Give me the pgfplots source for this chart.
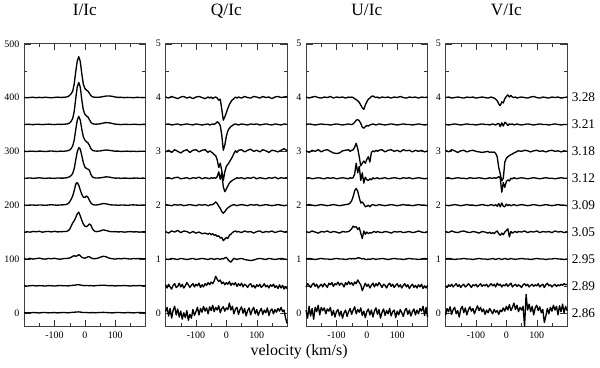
\documentclass[border=0pt]{standalone}
\usepackage{fontspec}
\setmainfont{Liberation Serif}
\usepackage{pgfplots}
\pgfplotsset{compat=1.18}

\pgfplotsset{
  panel/.style={
    scale only axis, width=91.5pt, height=213pt,
    xmin=-200, xmax=200,
    xtick={-100,0,100}, minor xtick={-150,-50,50,150},
    major tick length=5pt, minor tick length=2.5pt,
    axis line style={black!75}, tick style={black!80},
    tick label style={font=\fontsize{7.5}{8}\selectfont},
    /pgf/number format/assume math mode=true,
    title style={at={(0.5,1)}, anchor=base, yshift=15pt, font=\fontsize{13}{13}\selectfont},
    clip=false,
  },
  stokes/.style={panel, ymin=-0.26, ymax=5, ytick={0,1,2,3,4,5},
    minor ytick={0.5,1.5,2.5,3.5,4.5}},
  tr/.style={black, line width=1pt, mark=none, line join=round},
  off/.style={y filter/.code={\pgfmathparse{\pgfmathresult+#1}}},
}

\begin{document}
\begin{tikzpicture}
\path (-16.5pt,-30.75pt) rectangle (433.5pt,245.25pt);

% ---------- I/Ic ----------
\begin{axis}[panel, at={(0pt,0pt)}, anchor=south west, title={I/Ic},
  ymin=-26, ymax=500, ytick={0,100,200,300,400,500},
  minor ytick={50,150,250,350,450}]
\addplot[tr, off=400] coordinates {(-200,0.3) (-190,-0.4) (-180,0.2) (-170,0.5) (-160,-0.3) (-150,0.4) (-140,-0.2) (-130,0.6) (-120,0.1) (-110,-0.5) (-100,0.3) (-90,0.8) (-80,0.2) (-70,0.4) (-60,1) (-55,2) (-50,4) (-45,7) (-40,12) (-35,25) (-30,48) (-25,68) (-20,76) (-15,67) (-10,44) (-5,25) (0,17) (5,14) (10,12) (15,8) (20,3.5) (25,1.5) (30,0.8) (35,0.5) (40,0.4) (50,0.8) (60,1.8) (70,2.8) (80,3) (90,2.3) (100,1) (110,0.3) (120,0.5) (130,-0.2) (140,0.3) (150,0.1) (160,-0.3) (170,0.4) (180,0.2) (190,-0.1) (200,0.2)};
\addplot[tr, off=350] coordinates {(-200,-0.2) (-190,0.3) (-180,0.1) (-170,-0.4) (-160,0.5) (-150,0.2) (-140,-0.3) (-130,0.2) (-120,0.6) (-110,0.1) (-100,-0.3) (-90,0.4) (-80,0.1) (-70,0.3) (-60,0.8) (-55,1.5) (-50,3) (-45,6) (-40,11) (-35,24) (-30,48) (-25,70) (-20,78) (-15,69) (-10,46) (-5,27) (0,19) (5,16) (10,14) (15,9) (20,4) (25,1.5) (30,0.8) (35,0.5) (40,0.6) (50,1.2) (60,2.5) (70,3.5) (80,3) (90,1.8) (100,0.6) (110,0.2) (120,-0.3) (130,0.3) (140,0.1) (150,-0.2) (160,0.4) (170,0.1) (180,-0.3) (190,0.2) (200,0.1)};
\addplot[tr, off=300] coordinates {(-200,0.2) (-190,-0.3) (-180,0.4) (-170,0.1) (-160,-0.2) (-150,0.5) (-140,0.2) (-130,-0.4) (-120,0.3) (-110,0.7) (-100,0.1) (-90,-0.2) (-80,0.4) (-70,0.2) (-60,0.8) (-55,1.5) (-50,2.5) (-45,5) (-40,10) (-35,21) (-30,40) (-25,58) (-20,65) (-15,58) (-10,41) (-5,27) (0,21) (5,18) (10,16) (15,11) (20,5) (25,2) (30,1) (35,0.6) (40,0.4) (50,0.8) (60,1.8) (70,2.5) (80,2) (90,1) (100,0.3) (110,0.5) (120,-0.2) (130,0.2) (140,0.4) (150,-0.1) (160,0.2) (170,-0.3) (180,0.1) (190,0.3) (200,-0.1)};
\addplot[tr, off=250] coordinates {(-200,-0.3) (-190,0.2) (-180,0.5) (-170,-0.1) (-160,0.3) (-150,0.9) (-140,0.2) (-130,-0.3) (-120,0.4) (-110,0.1) (-100,-0.2) (-90,0.6) (-80,0.2) (-70,0.3) (-60,0.9) (-55,1.8) (-50,3) (-45,5) (-40,9) (-35,18) (-30,34) (-25,49) (-20,57) (-15,54) (-10,42) (-5,29) (0,21) (5,18) (10,17) (15,15) (20,7) (25,2.5) (30,1.2) (35,0.6) (40,0.4) (50,0.8) (60,1.6) (70,2.6) (80,2.2) (90,1) (100,0.2) (110,0.4) (120,-0.2) (130,0.3) (140,0.1) (150,-0.3) (160,0.2) (170,0.4) (180,-0.1) (190,0.2) (200,0.1)};
\addplot[tr, off=200] coordinates {(-200,0.1) (-190,-0.3) (-180,0.3) (-170,0.2) (-160,-0.2) (-150,0.4) (-140,0.1) (-130,-0.3) (-120,0.3) (-110,0.8) (-100,0.2) (-90,-0.1) (-80,0.4) (-70,0.6) (-60,1.5) (-55,3) (-50,6) (-45,11) (-40,17) (-35,27) (-30,39) (-25,42) (-20,37) (-15,28) (-10,20) (-5,15) (0,14) (5,17) (10,15) (15,9) (20,4) (25,1.5) (30,0.6) (35,0.2) (40,0.5) (50,1.5) (60,3) (70,2.5) (80,1) (90,0.4) (100,0.2) (110,-0.2) (120,0.3) (130,0.1) (140,-0.3) (150,0.2) (160,0.6) (170,0.1) (180,-0.2) (190,0.3) (200,0.1)};
\addplot[tr, off=150] coordinates {(-200,-0.5) (-190,0.6) (-180,-0.2) (-170,1.2) (-160,0.4) (-150,1.5) (-140,-0.3) (-130,0.8) (-120,1.2) (-110,0.2) (-100,1.4) (-90,0.3) (-80,0.6) (-70,0.9) (-60,1.2) (-55,2.5) (-50,5) (-45,11) (-40,17) (-35,21) (-30,27) (-25,34) (-20,37) (-15,30) (-10,22) (-5,15) (0,11) (5,10) (10,12) (15,15) (20,13) (25,6) (30,2.5) (35,1) (40,0.8) (50,2) (60,4) (70,3) (80,1.2) (90,0.5) (100,0.8) (110,0.2) (120,0.6) (130,-0.2) (140,0.4) (150,0.9) (160,0.2) (170,0.5) (180,-0.2) (190,0.4) (200,0.3)};
\addplot[tr, off=100] coordinates {(-200,0.5) (-190,-0.6) (-180,1.2) (-170,-0.3) (-160,0.8) (-150,1.5) (-140,0.2) (-130,-0.4) (-120,1) (-110,0.3) (-100,1.3) (-90,0.1) (-80,-0.5) (-70,0.7) (-60,0.9) (-55,1.2) (-50,2) (-45,3) (-40,5) (-35,6) (-30,5) (-25,6) (-20,8) (-15,6) (-10,3) (-5,2) (0,1.5) (5,2.5) (10,4) (15,4) (20,2) (25,1) (30,0.5) (35,0.6) (40,1) (50,3) (60,5) (70,4) (80,1.5) (90,0.5) (100,-0.3) (110,0.8) (120,0.2) (130,1.2) (140,0.4) (150,-0.2) (160,0.8) (170,0.3) (180,1) (190,0.2) (200,0.5)};
\addplot[tr, off=50] coordinates {(-200,0.2) (-190,-0.4) (-180,0.3) (-170,0.6) (-160,-0.2) (-150,0.4) (-140,0.1) (-130,-0.3) (-120,0.5) (-110,0.2) (-100,-0.4) (-90,0.3) (-80,0.6) (-70,0.1) (-60,0.2) (-55,-0.3) (-50,0.4) (-45,0.6) (-40,0.9) (-35,1.2) (-30,1.5) (-25,2) (-20,2.2) (-15,1.6) (-10,1) (-5,0.6) (0,0.3) (5,0.7) (10,0.5) (15,0.2) (20,0.6) (25,0.3) (30,-0.2) (35,0.4) (40,0.6) (50,0.9) (60,1.2) (70,0.8) (80,0.3) (90,0.5) (100,-0.2) (110,0.4) (120,0.1) (130,0.6) (140,0.2) (150,-0.3) (160,0.4) (170,0.2) (180,0.6) (190,0.1) (200,0.3)};
\addplot[tr, off=0] coordinates {(-200,-0.3) (-190,0.2) (-180,-0.1) (-170,0.4) (-160,0.1) (-150,-0.4) (-140,0.3) (-130,0.5) (-120,-0.2) (-110,0.1) (-100,0.4) (-90,-0.3) (-80,0.2) (-70,0.5) (-60,0.1) (-55,-0.2) (-50,0.3) (-45,0.5) (-40,0.8) (-35,1) (-30,1.2) (-25,1.5) (-20,1.6) (-15,1.2) (-10,0.8) (-5,0.5) (0,0.3) (5,0.6) (10,0.2) (15,-0.1) (20,0.3) (25,0.1) (30,0.4) (35,-0.2) (40,0.2) (50,0.5) (60,0.7) (70,0.4) (80,0.1) (90,-0.3) (100,0.3) (110,0.6) (120,0.1) (130,-0.2) (140,0.4) (150,0.2) (160,-0.3) (170,0.3) (180,0.5) (190,0.1) (200,-0.2)};
\end{axis}

% ---------- Q/Ic ----------
\begin{axis}[stokes, at={(106.5pt,0pt)}, anchor=south west, title={Q/Ic}]
\addplot[tr, off=4] coordinates {(-200,0.01) (-190,-0.01) (-180,0.02) (-170,0) (-160,-0.02) (-150,0.01) (-140,0.02) (-130,-0.01) (-120,0.01) (-110,-0.02) (-100,0.01) (-90,0.02) (-80,0) (-70,-0.02) (-60,0.01) (-55,-0.01) (-50,0.01) (-45,-0.02) (-40,0) (-35,0.01) (-30,-0.01) (-25,-0.05) (-20,-0.03) (-15,-0.22) (-10,-0.42) (-5,-0.36) (0,-0.28) (5,-0.2) (10,-0.13) (15,-0.08) (20,-0.04) (25,-0.02) (30,0.01) (35,-0.01) (40,0.01) (50,-0.01) (60,0.02) (70,0) (80,-0.01) (90,0.02) (100,0.01) (110,-0.01) (120,0.02) (130,0) (140,0.01) (150,-0.02) (160,0.01) (170,0.02) (180,0) (190,0.01) (200,0.02)};
\addplot[tr, off=3.5] coordinates {(-200,0) (-190,0.01) (-180,-0.01) (-170,0) (-160,0.01) (-150,-0.01) (-140,0) (-130,0.01) (-120,0) (-110,-0.01) (-100,0.01) (-90,0) (-80,-0.01) (-70,0) (-60,0.01) (-55,-0.01) (-50,0) (-45,0.01) (-40,0) (-35,0.02) (-30,0.05) (-25,0.03) (-20,-0.02) (-15,-0.2) (-10,-0.48) (-5,-0.38) (0,-0.22) (5,-0.12) (10,-0.07) (15,-0.04) (20,-0.02) (25,0) (30,0.01) (35,0) (40,-0.01) (50,0.01) (60,0) (70,-0.01) (80,0.01) (90,0) (100,0.01) (110,-0.01) (120,0) (130,0.01) (140,0) (150,-0.01) (160,0.01) (170,0) (180,-0.01) (190,0.01) (200,0)};
\addplot[tr, off=3] coordinates {(-200,-0.01) (-190,0.02) (-180,-0.02) (-170,0.03) (-160,0) (-150,-0.03) (-140,0.01) (-130,0.03) (-120,-0.02) (-110,0.02) (-100,0.03) (-90,-0.01) (-80,0.02) (-70,0.03) (-60,-0.02) (-55,0.01) (-50,-0.01) (-45,-0.03) (-40,-0.06) (-35,-0.08) (-30,-0.16) (-25,-0.3) (-20,-0.22) (-15,-0.36) (-10,-0.54) (-5,-0.38) (0,-0.28) (5,-0.24) (10,-0.2) (15,-0.15) (20,-0.1) (25,-0.04) (30,0.01) (35,-0.02) (40,0.02) (50,0.03) (60,-0.01) (70,0.02) (80,0.04) (90,0) (100,0.02) (110,-0.01) (120,0.03) (130,0.01) (140,-0.02) (150,0.02) (160,0.01) (170,-0.01) (180,0.02) (190,0.05) (200,0.01)};
\addplot[tr, off=2.5] coordinates {(-200,0) (-190,0.01) (-180,-0.01) (-170,0.01) (-160,0.02) (-150,-0.01) (-140,0) (-130,0.01) (-120,-0.01) (-110,0.01) (-100,0) (-90,0.02) (-80,-0.01) (-70,0.01) (-60,0) (-55,-0.01) (-50,0.01) (-45,0) (-40,0.01) (-35,0) (-30,0.03) (-25,0.12) (-20,-0.02) (-15,0.1) (-10,-0.16) (-5,-0.25) (0,-0.2) (5,-0.14) (10,-0.09) (15,-0.06) (20,-0.04) (25,-0.02) (30,-0.01) (35,0.01) (40,0) (50,0.01) (60,-0.01) (70,0.01) (80,0) (90,0.02) (100,-0.01) (110,0.01) (120,0) (130,-0.01) (140,0.01) (150,0) (160,0.02) (170,-0.01) (180,0.01) (190,0) (200,0.01)};
\addplot[tr, off=2] coordinates {(-200,0.01) (-190,0) (-180,-0.01) (-170,0.01) (-160,0) (-150,0.01) (-140,-0.01) (-130,0) (-120,0.01) (-110,0) (-100,-0.01) (-90,0.01) (-80,0) (-70,0.01) (-60,-0.01) (-55,0) (-50,0.01) (-45,0.01) (-40,0.03) (-35,0.06) (-30,0.03) (-25,-0.02) (-20,-0.06) (-15,-0.12) (-10,-0.15) (-5,-0.12) (0,-0.08) (5,-0.05) (10,-0.03) (15,-0.01) (20,0) (25,0.01) (30,0) (35,-0.01) (40,0) (50,0.01) (60,0) (70,-0.01) (80,0.01) (90,0) (100,0.01) (110,-0.01) (120,0) (130,0.01) (140,0) (150,-0.01) (160,0) (170,0.01) (180,0) (190,-0.01) (200,0)};
\addplot[tr, off=1.5] coordinates {(-200,0.01) (-190,-0.02) (-180,0.02) (-170,0) (-160,0.03) (-150,-0.01) (-140,0.02) (-130,0.01) (-120,-0.02) (-110,0.01) (-100,-0.02) (-90,0) (-80,-0.03) (-70,-0.02) (-60,-0.04) (-55,-0.02) (-50,-0.05) (-45,-0.03) (-40,-0.06) (-35,-0.05) (-30,-0.08) (-25,-0.07) (-20,-0.11) (-15,-0.1) (-10,-0.16) (-5,-0.13) (0,-0.1) (5,-0.12) (10,-0.06) (15,-0.04) (20,-0.01) (25,0.01) (30,0.02) (35,0) (40,0.01) (50,-0.01) (60,0.02) (70,0) (80,0.01) (90,-0.02) (100,0.01) (110,0.02) (120,-0.01) (130,0.01) (140,0) (150,0.02) (160,-0.01) (170,0.01) (180,0.02) (190,0) (200,0.01)};
\addplot[tr, off=1] coordinates {(-200,0) (-190,-0.01) (-180,0.01) (-170,0) (-160,-0.01) (-150,0.01) (-140,0) (-130,-0.01) (-120,0) (-110,0.01) (-100,-0.01) (-90,0) (-80,0.01) (-70,0) (-60,-0.01) (-55,0) (-50,0.01) (-45,0) (-40,-0.01) (-35,0) (-30,0.01) (-25,0) (-20,-0.01) (-15,0.01) (-10,0) (-5,0.02) (0,0.03) (5,-0.01) (10,-0.04) (15,-0.06) (20,-0.02) (25,0.01) (30,0) (35,-0.01) (40,0) (50,0.01) (60,-0.01) (70,-0.02) (80,-0.03) (90,-0.02) (100,0) (110,0.01) (120,0) (130,-0.01) (140,0.01) (150,0) (160,-0.01) (170,0) (180,0.01) (190,0) (200,-0.01)};
\addplot[tr, off=0.5] coordinates {(-200,0.02) (-195,-0.04) (-190,0.03) (-185,-0.02) (-180,-0.06) (-175,0.01) (-170,0.04) (-165,-0.03) (-160,-0.01) (-155,0.05) (-150,-0.02) (-145,0.03) (-140,-0.04) (-135,0) (-130,0.06) (-125,0.02) (-120,-0.03) (-115,0.01) (-110,0.04) (-105,-0.02) (-100,0.03) (-95,0) (-90,0.05) (-85,-0.03) (-80,0.02) (-75,-0.02) (-70,0.04) (-65,0.01) (-60,0.06) (-55,0.02) (-50,0.07) (-45,0.04) (-40,0.09) (-35,0.18) (-30,0.12) (-25,0.08) (-20,0.11) (-15,0.04) (-10,0.07) (-5,0.02) (0,0.06) (5,0.03) (10,0.08) (15,0.01) (20,0.05) (25,0.02) (30,0.06) (35,-0.01) (40,0.04) (45,0) (50,0.05) (55,-0.02) (60,0.03) (65,0.01) (70,-0.03) (75,0.02) (80,0.04) (85,-0.02) (90,0.01) (95,-0.04) (100,0.02) (105,-0.01) (110,0.03) (115,-0.03) (120,0) (125,0.04) (130,-0.02) (135,0.01) (140,-0.04) (145,0.02) (150,-0.01) (155,0.03) (160,-0.03) (165,0) (170,-0.05) (175,0.02) (180,-0.04) (185,0.01) (190,-0.06) (195,-0.02) (200,-0.05)};
\addplot[tr, off=0] coordinates {(-200,0.02) (-195,0.1) (-190,-0.06) (-185,0.08) (-180,-0.1) (-175,0.05) (-170,0.12) (-165,-0.04) (-160,0.07) (-155,-0.08) (-150,0.03) (-145,-0.12) (-140,0) (-135,-0.09) (-130,0.04) (-125,-0.14) (-120,-0.03) (-115,-0.1) (-110,0.06) (-105,-0.05) (-100,0.02) (-95,0.1) (-90,-0.04) (-85,0.08) (-80,0.01) (-75,0.12) (-70,0.03) (-65,0.09) (-60,-0.02) (-55,0.11) (-50,0.04) (-45,0.14) (-40,0.02) (-35,0.1) (-30,0.05) (-25,0.13) (-20,0) (-15,0.08) (-10,0.11) (-5,0.03) (0,0.09) (5,0.06) (10,0.18) (15,0.05) (20,0.12) (25,-0.02) (30,0.07) (35,0.1) (40,-0.03) (45,0.06) (50,0.11) (55,-0.01) (60,0.08) (65,-0.06) (70,0.04) (75,0.09) (80,-0.04) (85,0.05) (90,0.1) (95,-0.02) (100,0.06) (105,-0.05) (110,0.03) (115,0.08) (120,-0.03) (125,0.05) (130,0) (135,0.09) (140,-0.05) (145,0.04) (150,0.07) (155,-0.02) (160,0.06) (165,0.01) (170,0.08) (175,0.03) (180,0.1) (185,0.02) (190,0.05) (195,-0.1) (200,-0.2)};
\end{axis}

% ---------- U/Ic ----------
\begin{axis}[stokes, at={(212.25pt,0pt)}, anchor=south west, title={U/Ic}]
\addplot[tr, off=4] coordinates {(-200,0.01) (-190,-0.01) (-180,0.01) (-170,0.02) (-160,0) (-150,-0.01) (-140,0.01) (-130,0) (-120,0.02) (-110,-0.01) (-100,0.01) (-90,0) (-80,0.01) (-70,-0.01) (-60,0.01) (-55,0) (-50,0.01) (-45,0) (-40,-0.02) (-35,-0.04) (-30,-0.06) (-25,-0.09) (-20,-0.14) (-15,-0.19) (-10,-0.22) (-5,-0.14) (0,-0.08) (5,-0.03) (10,-0.01) (15,0.02) (20,0.03) (25,0.01) (30,0) (35,0.01) (40,-0.01) (50,0.01) (60,0) (70,0.01) (80,-0.01) (90,0.01) (100,0) (110,0.02) (120,0) (130,-0.01) (140,0.01) (150,0) (160,0.01) (170,-0.01) (180,0.01) (190,0) (200,0.01)};
\addplot[tr, off=3.5] coordinates {(-200,0) (-190,0.01) (-180,0) (-170,-0.01) (-160,0) (-150,0.01) (-140,0) (-130,0) (-120,-0.01) (-110,0) (-100,0.01) (-90,0) (-80,-0.01) (-70,0) (-60,0.01) (-55,0) (-50,0) (-45,0.01) (-40,0.04) (-35,0.08) (-30,0.09) (-25,0.07) (-20,0.02) (-15,-0.05) (-10,-0.07) (-5,-0.04) (0,-0.02) (5,-0.03) (10,-0.01) (15,0) (20,0.01) (25,0) (30,-0.01) (35,0) (40,0.01) (50,0) (60,-0.01) (70,0) (80,0.01) (90,0) (100,-0.01) (110,0) (120,0.01) (130,0) (140,0) (150,-0.01) (160,0) (170,0.01) (180,0) (190,-0.01) (200,0)};
\addplot[tr, off=3] coordinates {(-200,0.01) (-190,-0.02) (-180,0.02) (-170,0) (-160,0.03) (-150,-0.01) (-140,0.02) (-130,0.03) (-120,0) (-110,-0.03) (-100,-0.04) (-90,-0.03) (-80,0.01) (-70,0.02) (-60,0.03) (-55,0) (-50,0.02) (-45,0.03) (-40,0.08) (-35,0.15) (-30,0.05) (-25,-0.1) (-20,-0.27) (-15,-0.22) (-10,-0.18) (-5,-0.22) (0,-0.15) (5,-0.1) (10,-0.2) (15,-0.02) (20,0.01) (25,-0.01) (30,0.02) (35,0) (40,0.02) (50,0.03) (60,-0.01) (70,0.02) (80,0.03) (90,0) (100,0.02) (110,-0.01) (120,0.03) (130,0.01) (140,0.02) (150,-0.01) (160,0.02) (170,0) (180,0.02) (190,-0.01) (200,0.01)};
\addplot[tr, off=2.5] coordinates {(-200,0) (-190,0.01) (-180,-0.01) (-170,0) (-160,0.01) (-150,0) (-140,-0.01) (-130,0.01) (-120,0) (-110,0.01) (-100,-0.01) (-90,0) (-80,0.01) (-70,0) (-60,-0.01) (-55,0.01) (-50,0) (-45,0.01) (-40,0.08) (-35,0.28) (-30,0.1) (-25,0.22) (-20,-0.04) (-15,0.1) (-10,-0.09) (-5,0.02) (0,-0.03) (5,-0.04) (10,-0.01) (15,-0.03) (20,0.01) (25,-0.01) (30,0) (35,0.01) (40,-0.01) (50,0) (60,0.01) (70,-0.01) (80,0) (90,0.01) (100,0) (110,-0.01) (120,0.01) (130,0) (140,0.01) (150,-0.01) (160,0) (170,0.01) (180,0) (190,-0.01) (200,0)};
\addplot[tr, off=2] coordinates {(-200,0) (-190,0.01) (-180,0) (-170,-0.01) (-160,0) (-150,0.01) (-140,0) (-130,-0.01) (-120,0) (-110,0.01) (-100,0) (-90,-0.01) (-80,0) (-70,0.01) (-60,0.02) (-55,0.04) (-50,0.08) (-45,0.16) (-40,0.27) (-35,0.31) (-30,0.26) (-25,0.14) (-20,0.04) (-15,0.06) (-10,0.02) (-5,-0.03) (0,-0.02) (5,0) (10,-0.03) (15,0) (20,0.01) (25,0) (30,-0.01) (35,0) (40,0.01) (50,0) (60,-0.01) (70,0) (80,0.01) (90,0) (100,-0.01) (110,0) (120,0.01) (130,0) (140,0) (150,-0.01) (160,0) (170,0.01) (180,0) (190,0) (200,-0.01)};
\addplot[tr, off=1.5] coordinates {(-200,0.01) (-190,-0.01) (-180,0.02) (-170,0) (-160,-0.02) (-150,0.01) (-140,0) (-130,0.02) (-120,-0.01) (-110,0.01) (-100,0) (-90,-0.02) (-80,0.01) (-70,0) (-60,0.01) (-55,0.03) (-50,0.06) (-45,0.11) (-40,0.09) (-35,0.1) (-30,0.05) (-25,0.08) (-20,-0.02) (-15,-0.12) (-10,0.02) (-5,-0.04) (0,0) (5,-0.03) (10,-0.01) (15,-0.02) (20,0) (25,0.01) (30,-0.01) (35,0.01) (40,0) (50,-0.01) (60,0.01) (70,0) (80,-0.02) (90,0.01) (100,0) (110,0.01) (120,-0.01) (130,0) (140,0.01) (150,-0.01) (160,0) (170,0.02) (180,0) (190,-0.01) (200,0.01)};
\addplot[tr, off=1] coordinates {(-200,0) (-190,0.01) (-180,0) (-170,-0.01) (-160,0) (-150,0.01) (-140,0) (-130,0) (-120,-0.01) (-110,0) (-100,0.01) (-90,0) (-80,0) (-70,-0.01) (-60,0) (-55,0.01) (-50,0) (-45,0.01) (-40,0) (-35,0.01) (-30,0.02) (-25,0.02) (-20,0.01) (-15,0) (-10,0.01) (-5,-0.01) (0,-0.01) (5,0) (10,-0.01) (15,0) (20,0.01) (25,0) (30,-0.01) (35,0) (40,0) (50,0.01) (60,0) (70,-0.01) (80,0) (90,0.01) (100,0) (110,0) (120,-0.01) (130,0) (140,0.01) (150,0) (160,0) (170,-0.01) (180,0) (190,0.01) (200,0)};
\addplot[tr, off=0.5] coordinates {(-200,-0.02) (-195,0.04) (-190,0.01) (-185,-0.03) (-180,0.02) (-175,0.05) (-170,-0.01) (-165,0.03) (-160,-0.04) (-155,0) (-150,0.03) (-145,-0.02) (-140,0.04) (-135,0.01) (-130,-0.03) (-125,0.05) (-120,0.02) (-115,0.06) (-110,-0.01) (-105,0.04) (-100,0.02) (-95,0.07) (-90,0.01) (-85,0.05) (-80,0.03) (-75,-0.02) (-70,0.06) (-65,0.02) (-60,0.08) (-55,0.03) (-50,0.06) (-45,0.01) (-40,0.07) (-35,0.04) (-30,0.11) (-25,0.06) (-20,0.02) (-15,-0.09) (-10,-0.02) (-5,0.05) (0,-0.01) (5,0.03) (10,-0.04) (15,0.01) (20,0.05) (25,-0.02) (30,0.04) (35,0) (40,0.06) (45,0.02) (50,-0.03) (55,0.03) (60,0.01) (65,-0.04) (70,0.02) (75,0.05) (80,-0.01) (85,0.03) (90,-0.03) (95,0.01) (100,0.04) (105,-0.02) (110,0.02) (115,-0.04) (120,0.01) (125,0.04) (130,-0.02) (135,0.02) (140,-0.05) (145,0) (150,0.03) (155,-0.03) (160,0.01) (165,-0.04) (170,0.02) (175,-0.02) (180,0.03) (185,-0.05) (190,0) (195,-0.04) (200,0.01)};
\addplot[tr, off=0] coordinates {(-200,0.05) (-195,-0.1) (-190,0.12) (-185,-0.06) (-180,0.08) (-175,-0.12) (-170,0.1) (-165,0.02) (-160,0.14) (-155,-0.04) (-150,0.1) (-145,0.04) (-140,0.09) (-135,-0.02) (-130,0.07) (-125,0.03) (-120,0.1) (-115,-0.05) (-110,0.04) (-105,-0.08) (-100,0.02) (-95,0.06) (-90,-0.06) (-85,0.03) (-80,-0.1) (-75,0) (-70,0.05) (-65,-0.07) (-60,0.02) (-55,0.08) (-50,-0.03) (-45,0.05) (-40,0.11) (-35,-0.02) (-30,0.06) (-25,0.01) (-20,0.09) (-15,-0.05) (-10,0.03) (-5,-0.09) (0,0.02) (5,0.07) (10,-0.04) (15,0.05) (20,-0.08) (25,0.03) (30,0.09) (35,-0.03) (40,0.06) (45,-0.1) (50,0.01) (55,0.07) (60,-0.05) (65,0.04) (70,-0.02) (75,0.08) (80,-0.06) (85,0.02) (90,0.05) (95,-0.09) (100,0.03) (105,-0.04) (110,0.06) (115,0) (120,-0.07) (125,0.04) (130,0.08) (135,-0.03) (140,0.05) (145,-0.06) (150,0.02) (155,0.07) (160,-0.04) (165,0.05) (170,-0.02) (175,0.08) (180,0.03) (185,0.12) (190,-0.05) (195,0.1) (200,-0.08)};
\end{axis}

% ---------- V/Ic ----------
\begin{axis}[stokes, at={(317.25pt,0pt)}, anchor=south west, title={V/Ic}]
\addplot[tr, off=4] coordinates {(-200,0) (-190,0.01) (-180,-0.01) (-170,0) (-160,0.01) (-150,0) (-140,-0.01) (-130,0.01) (-120,0) (-110,0.01) (-100,-0.01) (-90,0) (-80,0.01) (-70,0) (-60,-0.01) (-55,0) (-50,0.01) (-45,0) (-40,-0.01) (-35,-0.03) (-30,-0.06) (-25,-0.12) (-20,-0.15) (-15,-0.08) (-10,-0.1) (-5,-0.02) (0,0.02) (5,0.05) (10,0.01) (15,0.04) (20,0.01) (25,0) (30,0.01) (35,-0.01) (40,0) (50,0.01) (60,0) (70,-0.01) (80,0.01) (90,0.02) (100,0) (110,-0.01) (120,0.01) (130,0) (140,-0.01) (150,0.01) (160,0) (170,0.01) (180,-0.01) (190,0) (200,0.01)};
\addplot[tr, off=3.5] coordinates {(-200,0) (-190,-0.01) (-180,0) (-170,0.01) (-160,0) (-150,-0.01) (-140,0) (-130,0.01) (-120,0) (-110,0) (-100,-0.01) (-90,0) (-80,0.01) (-70,0) (-60,0) (-55,-0.01) (-50,0) (-45,0.01) (-40,0) (-35,-0.01) (-30,0.01) (-25,0.02) (-20,-0.04) (-15,0.03) (-10,-0.03) (-5,0.04) (0,0.02) (5,-0.02) (10,0.01) (15,0) (20,0.01) (25,-0.01) (30,0) (35,0.01) (40,0) (50,-0.01) (60,0) (70,0.01) (80,0) (90,-0.01) (100,0) (110,0.01) (120,0) (130,0) (140,-0.01) (150,0) (160,0.01) (170,0) (180,-0.01) (190,0) (200,0)};
\addplot[tr, off=3] coordinates {(-200,0.02) (-190,-0.01) (-180,0.03) (-170,0.01) (-160,-0.02) (-150,0.01) (-140,0.02) (-130,-0.01) (-120,0.01) (-110,0.02) (-100,0) (-90,-0.01) (-80,-0.02) (-70,-0.01) (-60,0) (-55,-0.02) (-50,-0.01) (-45,-0.02) (-40,-0.01) (-35,-0.04) (-30,-0.1) (-25,-0.3) (-20,-0.42) (-15,-0.55) (-10,-0.5) (-5,-0.2) (0,-0.13) (5,-0.1) (10,-0.08) (15,-0.06) (20,-0.05) (25,-0.03) (30,-0.02) (35,0) (40,0.01) (50,0) (60,0.02) (70,0.01) (80,-0.01) (90,0.01) (100,0.02) (110,0) (120,0.01) (130,-0.01) (140,0.01) (150,0.02) (160,0) (170,0.01) (180,-0.01) (190,0.01) (200,0)};
\addplot[tr, off=2.5] coordinates {(-200,0) (-190,0.01) (-180,-0.01) (-170,0) (-160,0.01) (-150,0) (-140,0) (-130,-0.01) (-120,0.01) (-110,0) (-100,0) (-90,0.01) (-80,0) (-70,-0.01) (-60,0) (-55,0.01) (-50,0) (-45,0) (-40,0.01) (-35,0) (-30,0.01) (-25,0.03) (-20,0) (-15,-0.26) (-10,-0.08) (-5,-0.17) (0,-0.06) (5,-0.03) (10,-0.05) (15,0) (20,-0.01) (25,0.01) (30,0) (35,-0.01) (40,0) (50,0.01) (60,0) (70,-0.01) (80,0) (90,0.01) (100,0) (110,-0.01) (120,0) (130,0.01) (140,0) (150,0) (160,-0.01) (170,0) (180,0.01) (190,0) (200,0)};
\addplot[tr, off=2] coordinates {(-200,0) (-190,-0.01) (-180,0) (-170,0.01) (-160,0) (-150,-0.01) (-140,0) (-130,0.01) (-120,0) (-110,0) (-100,-0.01) (-90,0) (-80,0.01) (-70,0) (-60,-0.01) (-55,0) (-50,0.01) (-45,0) (-40,-0.01) (-35,0.01) (-30,-0.02) (-25,0.03) (-20,-0.03) (-15,0.04) (-10,-0.02) (-5,-0.03) (0,0.02) (5,-0.01) (10,0.01) (15,-0.01) (20,0) (25,0.01) (30,0) (35,-0.01) (40,0) (50,0.01) (60,0) (70,-0.01) (80,0) (90,0.01) (100,0) (110,-0.01) (120,0) (130,0.01) (140,0) (150,-0.01) (160,0) (170,0.01) (180,0) (190,0) (200,-0.01)};
\addplot[tr, off=1.5] coordinates {(-200,0.01) (-190,-0.01) (-180,0.02) (-170,0) (-160,-0.01) (-150,0.01) (-140,0.02) (-130,0) (-120,-0.01) (-110,0.01) (-100,0) (-90,-0.02) (-80,0.01) (-70,0) (-60,-0.02) (-55,0) (-50,-0.03) (-45,-0.01) (-40,-0.03) (-35,0) (-30,0.02) (-25,-0.03) (-20,-0.06) (-15,-0.02) (-10,-0.05) (-5,0) (0,0.03) (5,0.06) (10,-0.09) (15,0.01) (20,-0.02) (25,0) (30,0.01) (35,-0.01) (40,0.01) (50,0) (60,0.02) (70,-0.01) (80,0.01) (90,0) (100,0.02) (110,-0.01) (120,0.01) (130,0) (140,0.01) (150,-0.01) (160,0.02) (170,0) (180,0.01) (190,-0.01) (200,0.01)};
\addplot[tr, off=1] coordinates {(-200,0) (-190,0.01) (-180,0) (-170,-0.01) (-160,0) (-150,0) (-140,0.01) (-130,0) (-120,0) (-110,-0.01) (-100,0) (-90,0.01) (-80,0) (-70,0) (-60,-0.01) (-55,0) (-50,0) (-45,0.01) (-40,0) (-35,-0.01) (-30,0) (-25,0.01) (-20,0) (-15,-0.01) (-10,0) (-5,0.01) (0,0) (5,-0.01) (10,0) (15,0.01) (20,0) (25,0) (30,-0.01) (35,0) (40,0) (50,0.01) (60,0) (70,0) (80,-0.01) (90,0) (100,0.01) (110,0) (120,0) (130,-0.01) (140,0) (150,0) (160,0.01) (170,0) (180,0) (190,-0.01) (200,0)};
\addplot[tr, off=0.5] coordinates {(-200,0) (-195,-0.03) (-190,0.02) (-185,-0.01) (-180,0.03) (-175,-0.02) (-170,0.01) (-165,0.04) (-160,-0.01) (-155,0.02) (-150,-0.03) (-145,0.01) (-140,0.03) (-135,-0.02) (-130,0) (-125,0.04) (-120,0.01) (-115,-0.03) (-110,0.02) (-105,0) (-100,0.03) (-95,-0.02) (-90,0.01) (-85,0.04) (-80,-0.01) (-75,0.02) (-70,0) (-65,0.03) (-60,-0.02) (-55,0.01) (-50,0.04) (-45,0) (-40,0.03) (-35,-0.02) (-30,0.05) (-25,0.01) (-20,0.03) (-15,-0.02) (-10,0.02) (-5,0) (0,0.04) (5,-0.01) (10,0.02) (15,0.05) (20,-0.02) (25,0.01) (30,0.03) (35,-0.01) (40,0.02) (45,0) (50,-0.03) (55,0.02) (60,0.04) (65,0) (70,0.03) (75,-0.02) (80,0.01) (85,0.03) (90,-0.01) (95,0.02) (100,0) (105,0.04) (110,-0.02) (115,0.01) (120,0.03) (125,-0.03) (130,0.02) (135,0.05) (140,0) (145,0.02) (150,-0.02) (155,0.01) (160,0.03) (165,-0.01) (170,0.02) (175,0) (180,0.03) (185,0.01) (190,0.04) (195,0.02) (200,0.03)};
\addplot[tr, off=0] coordinates {(-200,-0.05) (-195,0.08) (-190,0.02) (-185,0.11) (-180,-0.03) (-175,0.06) (-170,0.1) (-165,-0.02) (-160,0.04) (-155,-0.08) (-150,0.07) (-145,0.12) (-140,0) (-135,0.09) (-130,-0.04) (-125,0.05) (-120,0.11) (-115,0.03) (-110,0.08) (-105,-0.02) (-100,0.06) (-95,0.13) (-90,0.04) (-85,0.1) (-80,0.02) (-75,0.07) (-70,-0.03) (-65,0.05) (-60,0) (-55,0.08) (-50,0.03) (-45,-0.02) (-40,0.06) (-35,0.01) (-30,0.04) (-25,-0.03) (-20,0.05) (-15,0.02) (-10,0.09) (-5,0.03) (0,0.12) (5,0.05) (10,0.15) (15,0.04) (20,0.1) (25,0.18) (30,0.06) (35,0.14) (40,0.02) (45,0.1) (50,0.05) (55,0.12) (60,-0.25) (65,0.34) (70,0.05) (75,0.16) (80,0.02) (85,0.12) (90,-0.04) (95,0.09) (100,0.14) (105,0.04) (110,0.11) (115,0) (120,0.06) (125,-0.18) (130,-0.06) (135,0.08) (140,-0.02) (145,0.1) (150,0.03) (155,0.14) (160,0.05) (165,0.12) (170,-0.04) (175,0.13) (180,0.02) (185,0.16) (190,0) (195,0.12) (200,0.04)};
\node[anchor=west, font=\fontsize{10}{10}\selectfont] at (axis cs:200,4) {3.28};
\node[anchor=west, font=\fontsize{10}{10}\selectfont] at (axis cs:200,3.5) {3.21};
\node[anchor=west, font=\fontsize{10}{10}\selectfont] at (axis cs:200,3) {3.18};
\node[anchor=west, font=\fontsize{10}{10}\selectfont] at (axis cs:200,2.5) {3.12};
\node[anchor=west, font=\fontsize{10}{10}\selectfont] at (axis cs:200,2) {3.09};
\node[anchor=west, font=\fontsize{10}{10}\selectfont] at (axis cs:200,1.5) {3.05};
\node[anchor=west, font=\fontsize{10}{10}\selectfont] at (axis cs:200,1) {2.95};
\node[anchor=west, font=\fontsize{10}{10}\selectfont] at (axis cs:200,0.5) {2.89};
\node[anchor=west, font=\fontsize{10}{10}\selectfont] at (axis cs:200,0) {2.86};
\end{axis}

\node[font=\fontsize{12}{12}\selectfont] at (207pt,-18.75pt) {velocity (km/s)};
\end{tikzpicture}
\end{document}
